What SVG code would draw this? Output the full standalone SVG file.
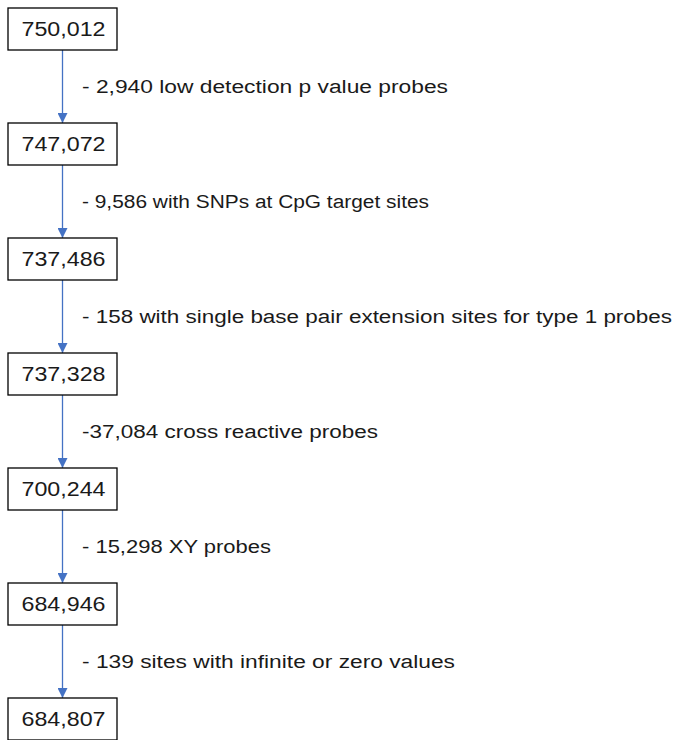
<svg xmlns="http://www.w3.org/2000/svg" width="682" height="740" viewBox="0 0 682 740">
<style>
.box{fill:#fff;stroke:#000;stroke-width:1.3}
.num{font-family:"Liberation Sans",Arial,sans-serif;font-size:20px;fill:#1a1a1a;text-anchor:middle}
.lbl{font-family:"Liberation Sans",Arial,sans-serif;font-size:18px;fill:#1a1a1a}
.conn{stroke:#4472C4;stroke-width:1.3;fill:none;marker-end:url(#ah)}
</style>
<defs>
<marker id="ah" markerUnits="userSpaceOnUse" markerWidth="10" markerHeight="10" refX="10" refY="5" orient="auto">
<path d="M0,0 L10,5 L0,10 Z" fill="#4472C4"/>
</marker>
</defs>
<rect width="682" height="740" fill="#fff"/>
<g id="connectors">
<line class="conn" x1="62.5" y1="50" x2="62.5" y2="123"/>
<line class="conn" x1="62.5" y1="165" x2="62.5" y2="238"/>
<line class="conn" x1="62.5" y1="280" x2="62.5" y2="353"/>
<line class="conn" x1="62.5" y1="395" x2="62.5" y2="468"/>
<line class="conn" x1="62.5" y1="510" x2="62.5" y2="583"/>
<line class="conn" x1="62.5" y1="625" x2="62.5" y2="698"/>
<text class="lbl" x="82" y="93" textLength="366" lengthAdjust="spacingAndGlyphs">- 2,940 low detection p value probes</text>
<text class="lbl" x="82" y="208" textLength="347" lengthAdjust="spacingAndGlyphs">- 9,586 with SNPs at CpG target sites</text>
<text class="lbl" x="82" y="323" textLength="590" lengthAdjust="spacingAndGlyphs">- 158 with single base pair extension sites for type 1 probes</text>
<text class="lbl" x="82" y="438" textLength="296" lengthAdjust="spacingAndGlyphs">-37,084 cross reactive probes</text>
<text class="lbl" x="82" y="553" textLength="189" lengthAdjust="spacingAndGlyphs">- 15,298 XY probes</text>
<text class="lbl" x="82" y="668" textLength="373" lengthAdjust="spacingAndGlyphs">- 139 sites with infinite or zero values</text>
</g>
<g id="n1"><rect class="box" x="8" y="8" width="109" height="42"/><text class="num" x="63.5" y="36" textLength="84" lengthAdjust="spacingAndGlyphs">750,012</text></g>
<g id="n2"><rect class="box" x="8" y="123" width="109" height="42"/><text class="num" x="63.5" y="151" textLength="84" lengthAdjust="spacingAndGlyphs">747,072</text></g>
<g id="n3"><rect class="box" x="8" y="238" width="109" height="42"/><text class="num" x="63.5" y="266" textLength="84" lengthAdjust="spacingAndGlyphs">737,486</text></g>
<g id="n4"><rect class="box" x="8" y="353" width="109" height="42"/><text class="num" x="63.5" y="381" textLength="84" lengthAdjust="spacingAndGlyphs">737,328</text></g>
<g id="n5"><rect class="box" x="8" y="468" width="109" height="42"/><text class="num" x="63.5" y="496" textLength="84" lengthAdjust="spacingAndGlyphs">700,244</text></g>
<g id="n6"><rect class="box" x="8" y="583" width="109" height="42"/><text class="num" x="63.5" y="611" textLength="84" lengthAdjust="spacingAndGlyphs">684,946</text></g>
<g id="n7"><rect class="box" x="8" y="698" width="109" height="42"/><text class="num" x="63.5" y="726" textLength="84" lengthAdjust="spacingAndGlyphs">684,807</text></g>
</svg>
